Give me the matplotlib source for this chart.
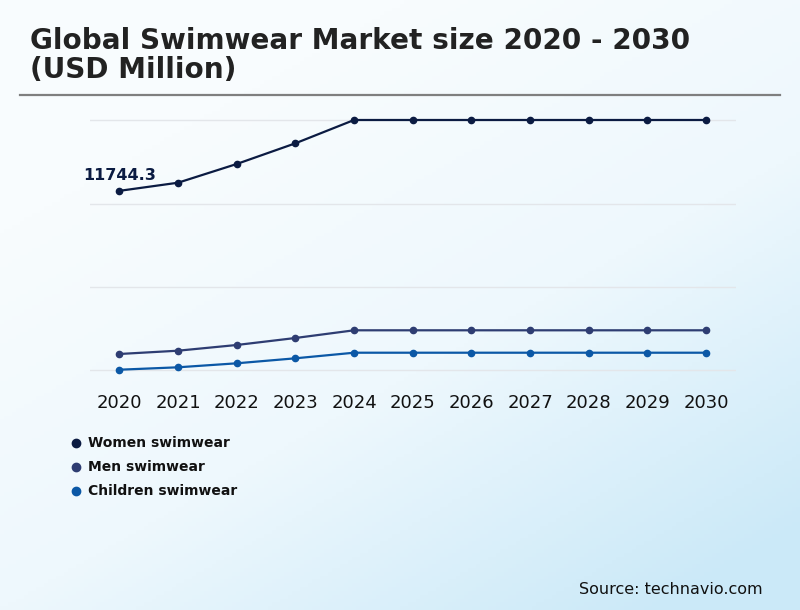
import numpy as np
import matplotlib
matplotlib.use('Agg')
import matplotlib.pyplot as plt
from matplotlib.colors import LinearSegmentedColormap

plt.rcParams['font.family'] = ['DejaVu Sans']

# data (USD million)
years = [2020, 2021, 2022, 2023, 2024, 2025, 2026, 2027, 2028, 2029, 2030]
women = [11744.3, 12184, 13195, 14313, 15572, 15572, 15572, 15572, 15572, 15572, 15572]
men = [2931, 3109, 3417, 3795, 4211, 4211, 4211, 4211, 4211, 4211, 4211]
children = [2082, 2212, 2428, 2698, 3000, 3000, 3000, 3000, 3000, 3000, 3000]
series_names = ['Women swimwear', 'Men swimwear', 'Children swimwear']
series_colors = ['#0b1b42', '#2e3d72', '#0b58a6']
grid_values = [2050, 6550, 11050, 15550]

fig = plt.figure(figsize=(8, 6.1), dpi=100)

# background gradient
bg = fig.add_axes([0, 0, 1, 1], zorder=-10)
xx, yy = np.meshgrid(np.linspace(0, 1, 200), np.linspace(0, 1, 160))
grad = np.clip(0.6 * xx + 0.8 * yy - 0.3, 0, 1)
cmap = LinearSegmentedColormap.from_list('bg', ['#f8fcfe', '#eef8fd', '#cbe9f8'])
bg.imshow(grad, cmap=cmap, aspect='auto', extent=[0, 1, 0, 1], origin='upper')
bg.axis('off')

# title + rule
fig.text(30 / 800, 1 - 41 / 610, 'Global Swimwear Market size 2020 - 2030',
         fontsize=20.1, fontweight='bold', color='#222222', va='center')
fig.text(30 / 800, 1 - 70 / 610, '(USD Million)',
         fontsize=20.1, fontweight='bold', color='#222222', va='center')
fig.add_artist(plt.Line2D([20 / 800, 780 / 800], [1 - 95 / 610, 1 - 95 / 610],
                          color='#7f7f7f', lw=1.6))

ax = fig.add_axes([90 / 800, 1 - 380 / 610, (735.5 - 90) / 800, 270 / 610])
ax.patch.set_alpha(0)
for s in ax.spines.values():
    s.set_visible(False)

for vals, name, col in zip([women, men, children], series_names, series_colors):
    ax.plot(years, vals, color=col, lw=1.6, marker='o', ms=4.5, label=name)

for g in grid_values:
    ax.axhline(g, color='#e3e6ea', lw=1, zorder=0)

ax.set_xlim(2019.5, 2030.5)
ax.set_ylim(1526, 16112)
ax.set_yticks([])
ax.set_xticks(years)
ax.set_xticklabels([str(y) for y in years], fontsize=13, color='#111111')
ax.tick_params(axis='x', length=0, pad=10)

ax.annotate(f'{women[0]}', (years[0], women[0]), xytext=(0, 11), textcoords='offset points',
            ha='center', va='center', fontsize=11.5, fontweight='bold', color='#0b1b42')

# legend
leg_y = [443, 467, 491]
for y, name, col in zip(leg_y, series_names, series_colors):
    fig.add_artist(plt.Line2D([76 / 800], [1 - y / 610], marker='o', ms=6,
                              color=col, lw=0))
    fig.text(88 / 800, 1 - y / 610, name, fontsize=10, fontweight='bold',
             color='#111111', va='center')

fig.text(763 / 800, 1 - 589 / 610, 'Source: technavio.com', fontsize=11.5,
         color='#111111', ha='right', va='center')

fig.savefig('out.png', dpi=100)
